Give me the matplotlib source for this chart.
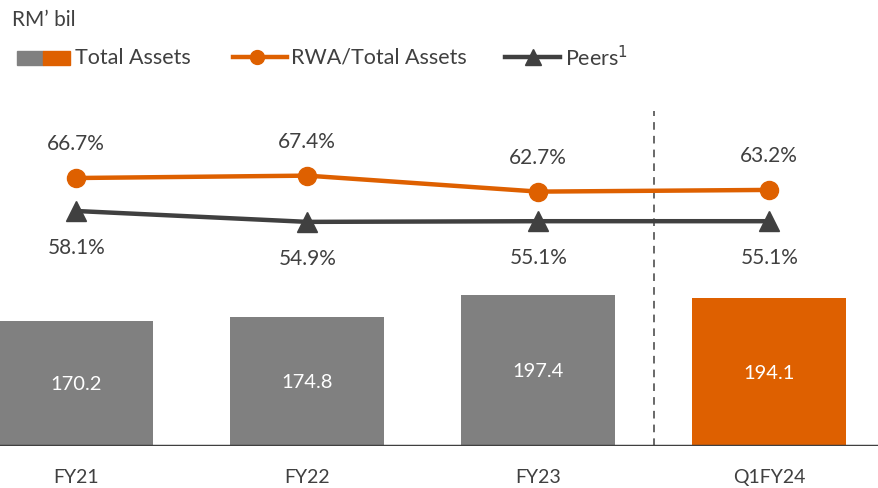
import matplotlib.pyplot as plt
from matplotlib.lines import Line2D
from matplotlib.patches import Rectangle

plt.rcParams['font.family'] = ['Lato', 'DejaVu Sans']

periods = ["FY21", "FY22", "FY23", "Q1FY24"]
total_assets = [170.2, 174.8, 197.4, 194.1]
rwa_ratio = [66.7, 67.4, 62.7, 63.2]
peers = [58.1, 54.9, 55.1, 55.1]

grey = "#808080"
orange = "#DE6000"
dark = "#404040"

W, H = 879, 489
fig = plt.figure(figsize=(W / 100, H / 100), dpi=100)

def fx(px):
    return px / W

def fy(py):
    return 1 - py / H

# axes spans from x=0 to 879 px and y=100 to 447 px
rect = [0, fy(447), 1, (447 - 100) / H]
ax = fig.add_axes(rect)
x = list(range(len(periods)))
bar_colors = [grey, grey, grey, orange]
ax.bar(x, total_assets, width=0.667, color=bar_colors, zorder=2)
ax.set_ylim(39.4, 402.4)
ax.set_xlim(-0.33, 3.475)
for xi, v in zip(x, total_assets):
    ax.text(xi, 39.4 + (v - 39.4) / 2, f"{v:.1f}", ha="center", va="center",
            color="white", fontsize=14.5)
ax.axhline(39.4, color=dark, lw=2.5, zorder=3)
ax.axvline(2.5, ymin=0, ymax=(447 - 112) / 347, color=dark, lw=1.1,
           ls=(0, (5, 4)), zorder=1)
ax.set_xticks(x)
ax.set_xticklabels(periods, fontsize=14, color=dark)
ax.tick_params(axis="x", length=0, pad=14)
ax.set_yticks([])
ax.axis("off")
for xi, p in zip(x, periods):
    ax.annotate(p, (xi, 39.4), xytext=(0, -22), textcoords="offset points",
                ha="center", va="center", fontsize=14, color=dark)

# RWA line
ax2 = fig.add_axes(rect, sharex=ax)
ax2.set_ylim(-12.12, 89.94)
ax2.plot(x, rwa_ratio, color=orange, lw=3.2, marker="o", ms=13, zorder=4)
for xi, v in zip(x, rwa_ratio):
    ax2.annotate(f"{v:.1f}%", (xi, v), xytext=(0, 25), textcoords="offset points",
                 ha="center", va="center", fontsize=15, color=dark)
ax2.axis("off")

# Peers line
ax3 = fig.add_axes(rect, sharex=ax)
ax3.set_ylim(-11.02, 91.04)
ax3.plot(x, peers, color=dark, lw=3.2, marker="^", ms=14, zorder=4)
for xi, v in zip(x, peers):
    ax3.annotate(f"{v:.1f}%", (xi, v), xytext=(0, -26), textcoords="offset points",
                 ha="center", va="center", fontsize=15, color=dark)
ax3.axis("off")

# header and legend
fig.text(fx(12), fy(20), "RM\u2019 bil", fontsize=15, color=dark, va="center")
fig.patches.append(Rectangle((fx(17), fy(66)), fx(26), 14 / H, color=grey,
                             transform=fig.transFigure))
fig.patches.append(Rectangle((fx(43), fy(66)), fx(27), 14 / H, color=orange,
                             transform=fig.transFigure))
fig.text(fx(75), fy(58), "Total Assets", fontsize=15.5, color=dark, va="center")
fig.lines.append(Line2D([fx(233), fx(287)], [fy(58), fy(58)], color=orange, lw=3.2,
                        transform=fig.transFigure))
fig.lines.append(Line2D([fx(257)], [fy(58)], color=orange, marker="o", ms=10,
                        transform=fig.transFigure))
fig.text(fx(291), fy(58), "RWA/Total Assets", fontsize=15.5, color=dark, va="center")
fig.lines.append(Line2D([fx(505), fx(560)], [fy(58), fy(58)], color=dark, lw=3.2,
                        transform=fig.transFigure))
fig.lines.append(Line2D([fx(533)], [fy(58)], color=dark, marker="^", ms=11,
                        transform=fig.transFigure))
fig.text(fx(565), fy(58), "Peers$^{1}$", fontsize=15.5, color=dark, va="center")

fig.savefig("out.png", dpi=100)
